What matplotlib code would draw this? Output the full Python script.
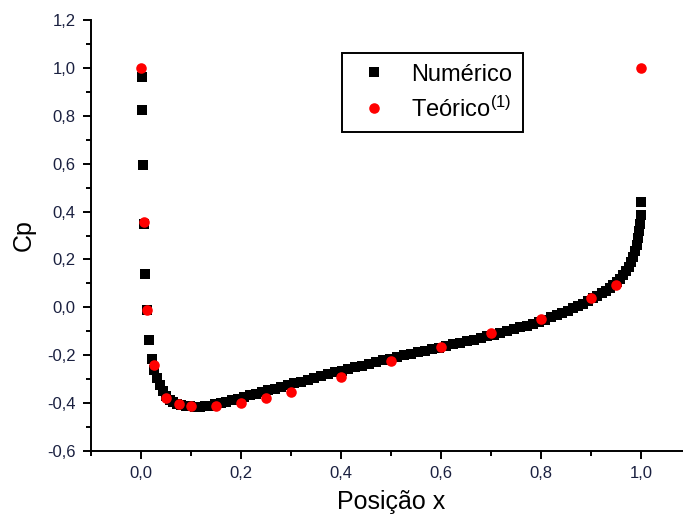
import numpy as np
import matplotlib
matplotlib.use('Agg')
import matplotlib.pyplot as plt
from matplotlib.ticker import MultipleLocator, FuncFormatter

matplotlib.rcParams['font.family'] = ['Liberation Sans', 'DejaVu Sans']
matplotlib.rcParams['mathtext.default'] = 'regular'

#%% pressure coefficient along the chord
# numerical solution (panel points)
x_num = [0.001, 0.001, 0.003, 0.005, 0.007, 0.012, 0.016, 0.021,
         0.026, 0.031, 0.037, 0.043, 0.050, 0.057, 0.064, 0.072, 0.080,
         0.089, 0.098, 0.107, 0.117, 0.127, 0.137, 0.148, 0.159, 0.170,
         0.181, 0.193, 0.205, 0.217, 0.229, 0.242, 0.254, 0.267, 0.280,
         0.293, 0.306, 0.319, 0.333, 0.346, 0.360, 0.373, 0.387, 0.401,
         0.414, 0.428, 0.442, 0.456, 0.470, 0.484, 0.498, 0.512, 0.526,
         0.540, 0.554, 0.568, 0.582, 0.596, 0.610, 0.624, 0.638, 0.651,
         0.665, 0.679, 0.692, 0.706, 0.719, 0.732, 0.745, 0.758, 0.771,
         0.783, 0.795, 0.808, 0.819, 0.831, 0.842, 0.853, 0.864, 0.874,
         0.884, 0.894, 0.903, 0.912, 0.921, 0.929, 0.937, 0.944, 0.951,
         0.958, 0.964, 0.970, 0.975, 0.980, 0.984, 0.988, 0.991, 0.994,
         0.996, 0.998, 0.999, 1.000]
cp_num = [0.963, 0.824, 0.594, 0.350, 0.139, -0.010, -0.137, -0.217,
          -0.260, -0.295, -0.325, -0.350, -0.370, -0.385, -0.395, -0.403, -0.408,
          -0.412, -0.414, -0.415, -0.415, -0.413, -0.410, -0.405, -0.400, -0.394,
          -0.388, -0.382, -0.375, -0.368, -0.361, -0.354, -0.347, -0.340, -0.333,
          -0.325, -0.318, -0.310, -0.302, -0.295, -0.287, -0.280, -0.272, -0.264,
          -0.257, -0.250, -0.243, -0.236, -0.229, -0.222, -0.215, -0.208, -0.201,
          -0.195, -0.188, -0.182, -0.175, -0.168, -0.162, -0.155, -0.149, -0.142,
          -0.135, -0.128, -0.121, -0.114, -0.107, -0.100, -0.092, -0.084, -0.076,
          -0.068, -0.060, -0.051, -0.042, -0.033, -0.024, -0.014, -0.004, 0.006,
          0.016, 0.027, 0.037, 0.048, 0.059, 0.070, 0.081, 0.092, 0.104,
          0.118, 0.133, 0.150, 0.168, 0.190, 0.212, 0.237, 0.262, 0.290,
          0.318, 0.350, 0.385, 0.440]

# theoretical values (1)
x_teo = [0.0, 0.005, 0.0125, 0.025, 0.05, 0.075, 0.1, 0.15, 0.2, 0.25,
         0.3, 0.4, 0.5, 0.6, 0.7, 0.8, 0.9, 0.95, 1.0]
cp_teo = [1.0, 0.357, -0.012, -0.241, -0.378, -0.403, -0.413, -0.413, -0.400, -0.378,
          -0.352, -0.290, -0.224, -0.166, -0.107, -0.047, 0.040, 0.093, 1.0]

#%% plot
fig = plt.figure(figsize=(6.83, 5.15), dpi=100)
ax = fig.add_axes([91/683, 64/515, 600/683, 431/515])

ax.plot(x_num, cp_num, 's', color='black', ms=6.6, mec='black', mew=0,
        label='Numérico', zorder=2)
ax.plot(x_teo, cp_teo, 'o', color='#ff0000', ms=7.6, mew=0,
        label='Teórico$^{(1)}$', zorder=3)

ax.set_xlim(-0.1, 1.1)
ax.set_ylim(-0.6, 1.2)

for s in ['top', 'right']:
    ax.spines[s].set_visible(False)
for s in ['left', 'bottom']:
    ax.spines[s].set_linewidth(1.4)

comma = FuncFormatter(lambda v, p: ('%.1f' % v).replace('.', ','))
ax.xaxis.set_major_locator(MultipleLocator(0.2))
ax.xaxis.set_minor_locator(MultipleLocator(0.1))
ax.yaxis.set_major_locator(MultipleLocator(0.2))
ax.yaxis.set_minor_locator(MultipleLocator(0.1))
ax.xaxis.set_major_formatter(comma)
ax.yaxis.set_major_formatter(comma)

lab_col = '#1a2040'
ax.tick_params(which='major', direction='out', length=6, width=1.4,
               labelsize=12, labelcolor=lab_col, pad=5)
ax.tick_params(which='minor', direction='out', length=3.5, width=1.4)

ax.set_xlabel('Posição x', fontsize=18, labelpad=6)
ax.set_ylabel('Cp', fontsize=18, labelpad=8)

leg = ax.legend(loc='upper left', bbox_to_anchor=(342/683, 1 - 53/515),
                bbox_transform=fig.transFigure, fontsize=17, frameon=True,
                fancybox=False, shadow=False, framealpha=1, borderpad=0.45,
                handlelength=1.8, handletextpad=0.67, labelspacing=0.45,
                borderaxespad=0)
leg.get_frame().set_edgecolor('black')
leg.get_frame().set_linewidth(1.4)

plt.savefig('out.png', dpi=100)
